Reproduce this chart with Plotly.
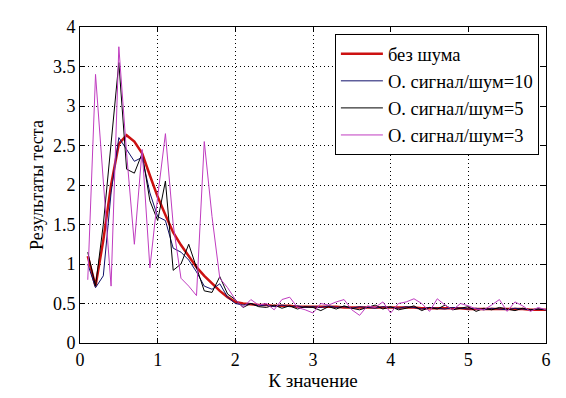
import plotly.graph_objects as go

k_values = [round(0.1 * i, 1) for i in range(1, 61)]

no_noise = [1.10, 0.72, 1.30, 2.00, 2.52, 2.63, 2.55, 2.40, 2.12, 1.85,
            1.62, 1.40, 1.24, 1.10, 0.96, 0.85, 0.75, 0.66, 0.58, 0.52,
            0.50, 0.49, 0.48, 0.48, 0.47, 0.47, 0.47, 0.46, 0.46, 0.46,
            0.46, 0.46, 0.46, 0.45, 0.45, 0.45, 0.45, 0.45, 0.45, 0.45,
            0.45, 0.45, 0.45, 0.44, 0.44, 0.44, 0.44, 0.44, 0.44, 0.43,
            0.43, 0.43, 0.43, 0.43, 0.43, 0.43, 0.43, 0.42, 0.42, 0.42]

snr10 = [1.00, 0.70, 0.85, 1.90, 2.60, 2.45, 2.30, 2.35, 1.90, 1.60,
         1.55, 1.20, 1.15, 1.05, 0.90, 0.72, 0.68, 0.75, 0.58, 0.50,
         0.48, 0.50, 0.47, 0.48, 0.46, 0.48, 0.46, 0.47, 0.45, 0.46,
         0.45, 0.47, 0.45, 0.46, 0.44, 0.46, 0.45, 0.44, 0.46, 0.45,
         0.44, 0.46, 0.45, 0.43, 0.45, 0.44, 0.43, 0.45, 0.44, 0.43,
         0.44, 0.42, 0.44, 0.43, 0.42, 0.44, 0.43, 0.42, 0.43, 0.42]

snr5 = [1.15, 0.72, 1.50, 2.50, 3.55, 2.20, 2.15, 2.40, 1.80, 1.55,
        2.05, 0.92, 1.00, 1.25, 0.95, 0.66, 0.64, 0.84, 0.62, 0.55,
        0.45, 0.50, 0.46, 0.45, 0.48, 0.44, 0.47, 0.43, 0.46, 0.45,
        0.41, 0.46, 0.43, 0.47, 0.44, 0.42, 0.45, 0.48, 0.43, 0.46,
        0.42, 0.44, 0.47, 0.41, 0.45, 0.43, 0.48, 0.42, 0.44, 0.46,
        0.40, 0.44, 0.42, 0.45, 0.43, 0.41, 0.44, 0.42, 0.43, 0.42]

snr3 = [0.80, 3.40, 2.05, 0.72, 3.75, 2.40, 1.25, 2.45, 0.95, 1.85,
        2.65, 1.50, 0.82, 0.72, 0.60, 2.55, 1.60, 0.82, 0.70, 0.55,
        0.45, 0.55, 0.48, 0.50, 0.42, 0.55, 0.58, 0.45, 0.42, 0.38,
        0.50, 0.48, 0.52, 0.55, 0.42, 0.35, 0.47, 0.45, 0.52, 0.38,
        0.50, 0.52, 0.56, 0.50, 0.40, 0.56, 0.48, 0.42, 0.50, 0.47,
        0.43, 0.42, 0.48, 0.55, 0.40, 0.52, 0.47, 0.40, 0.45, 0.42]

names = ["без шума", "О. сигнал/шум=10", "О. сигнал/шум=5", "О. сигнал/шум=3"]
x_ticks = [0, 1, 2, 3, 4, 5, 6]
y_ticks = [0, 0.5, 1, 1.5, 2, 2.5, 3, 3.5, 4]
y_tick_text = ["0", "0.5", "1", "1.5", "2", "2.5", "3", "3.5", "4"]

series = [no_noise, snr10, snr5, snr3]
colors = ["#cc1111", "#10106a", "#000000", "#c03cc0"]
widths = [2.5, 1, 1, 1]

fig = go.Figure()
for name, ys, c, w in zip(names, series, colors, widths):
    fig.add_trace(go.Scatter(x=k_values, y=ys, mode="lines", name=name,
                             line=dict(color=c, width=w)))

font = "'Liberation Serif', 'DejaVu Serif', serif"
axis_common = dict(
    showline=True, linecolor="black", linewidth=1, mirror="ticks",
    ticks="inside", ticklen=5, tickcolor="black",
    showgrid=True, gridcolor="black", griddash="1px,3px", gridwidth=1,
    zeroline=False, automargin=False,
    tickfont=dict(family=font, size=18, color="black"),
)

fig.update_layout(
    width=566, height=398,
    margin=dict(l=80, r=20, t=27, b=55),
    paper_bgcolor="white", plot_bgcolor="white",
    font=dict(family=font, color="black"),
    xaxis=dict(range=[0, 6], tickvals=x_ticks,
               title=dict(text="К значение", font=dict(family=font, size=19), standoff=4),
               **axis_common),
    yaxis=dict(range=[0, 4], tickvals=y_ticks, ticktext=y_tick_text,
               title=dict(text="Результаты теста", font=dict(family=font, size=18), standoff=4),
               **axis_common),
    legend=dict(x=0.547, y=0.977, xanchor="left", yanchor="top",
                bgcolor="white", bordercolor="black", borderwidth=1,
                font=dict(family=font, size=18.5, color="black"),
                itemwidth=42, tracegroupgap=0),
    showlegend=True,
)

fig.write_html("out.html", config={"displayModeBar": False},
               post_script="document.body.style.margin='0';")
